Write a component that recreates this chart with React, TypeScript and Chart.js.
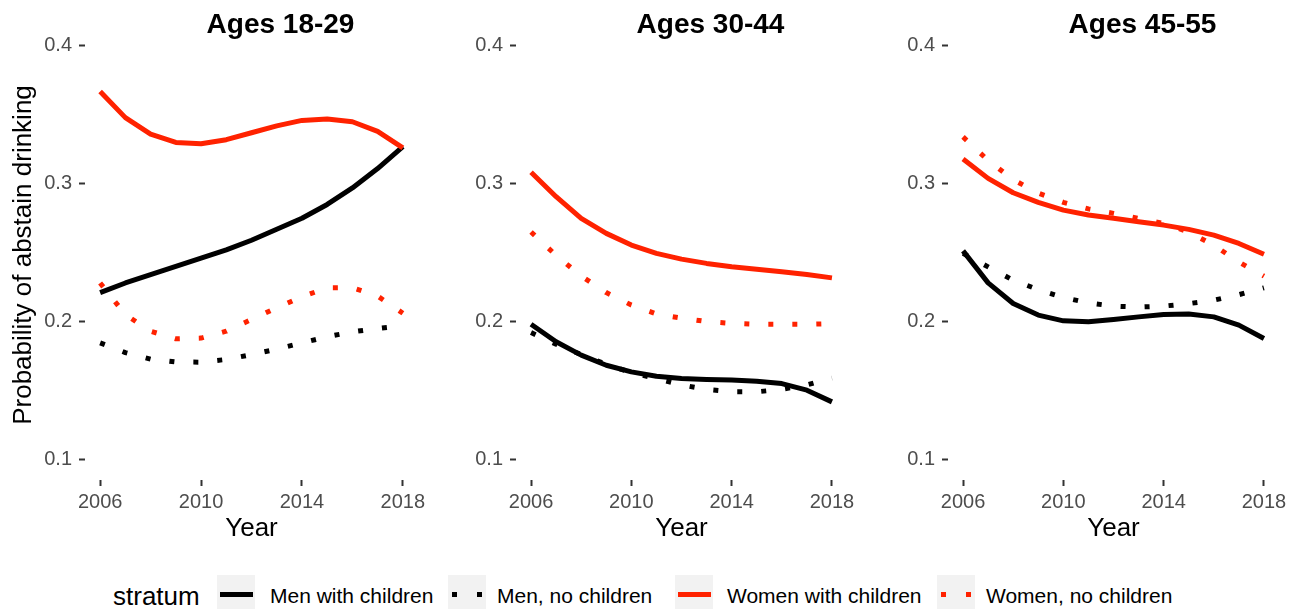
import React, { useEffect, useRef } from "react";
import { Chart, registerables } from "chart.js";

Chart.register(...registerables);

const FONT = '"Liberation Sans", Arial, Helvetica, sans-serif';

const years = [2006, 2007, 2008, 2009, 2010, 2011, 2012, 2013, 2014, 2015, 2016, 2017, 2018];
const xTicks = [2006, 2010, 2014, 2018];
const yTicks = [0.1, 0.2, 0.3, 0.4];
const panelTitles = ["Ages 18-29", "Ages 30-44", "Ages 45-55"];
const seriesNames = ["Men with children", "Men, no children", "Women with children", "Women, no children"];
const seriesColors = ["#000000", "#000000", "#ff2200", "#ff2200"];
const seriesDotted = [false, true, false, true];

// Ages 18-29
const menWith1 = [0.221, 0.228, 0.234, 0.24, 0.246, 0.252, 0.259, 0.267, 0.275, 0.285, 0.297, 0.311, 0.327];
const menNo1 = [0.1845, 0.1775, 0.1727, 0.1707, 0.1705, 0.1725, 0.176, 0.18, 0.1845, 0.189, 0.1925, 0.195, 0.197];
const womenWith1 = [0.367, 0.348, 0.336, 0.33, 0.329, 0.332, 0.337, 0.342, 0.346, 0.347, 0.345, 0.338, 0.326];
const womenNo1 = [0.228, 0.205, 0.193, 0.1875, 0.188, 0.193, 0.2015, 0.21, 0.218, 0.2245, 0.2245, 0.2185, 0.206];

// Ages 30-44
const menWith2 = [0.198, 0.1853, 0.1756, 0.1683, 0.1635, 0.1603, 0.1587, 0.158, 0.1575, 0.1567, 0.155, 0.1502, 0.1417];
const menNo2 = [0.192, 0.1835, 0.176, 0.169, 0.163, 0.1585, 0.154, 0.1507, 0.149, 0.149, 0.1508, 0.154, 0.159];
const womenWith2 = [0.3083, 0.2906, 0.2749, 0.264, 0.2555, 0.2495, 0.2453, 0.2422, 0.2397, 0.238, 0.2361, 0.2342, 0.2317];
const womenNo2 = [0.265, 0.248, 0.233, 0.221, 0.212, 0.2055, 0.2025, 0.2, 0.1987, 0.198, 0.198, 0.198, 0.1985];

// Ages 45-55
const menWith3 = [0.2513, 0.2281, 0.2131, 0.2047, 0.2005, 0.1998, 0.2015, 0.2034, 0.2051, 0.2054, 0.2034, 0.1974, 0.1877];
const menNo3 = [0.2495, 0.2397, 0.23, 0.2232, 0.2175, 0.2135, 0.2112, 0.2105, 0.2112, 0.213, 0.2155, 0.2195, 0.2245];
const womenWith3 = [0.3179, 0.3039, 0.2935, 0.2865, 0.2809, 0.2773, 0.2749, 0.2724, 0.27, 0.2669, 0.2627, 0.2567, 0.2489];
const womenNo3 = [0.334, 0.317, 0.303, 0.2932, 0.2865, 0.2818, 0.2785, 0.2749, 0.2712, 0.265, 0.2554, 0.2432, 0.233];

const panelSeries = [
  [menWith1, menNo1, womenWith1, womenNo1],
  [menWith2, menNo2, womenWith2, womenNo2],
  [menWith3, menNo3, womenWith3, womenNo3],
];

const CANVAS_H = 560;
const panelLayout = [
  { left: 0, width: 431, axisW: 85, rightPad: 13, yTitle: true },
  { left: 431, width: 430, axisW: 85, rightPad: 14, yTitle: false },
  { left: 863, width: 429, axisW: 85, rightPad: 13, yTitle: false },
];

const titlePlugin = {
  id: "panelTitle",
  afterDraw(chart: any, _args: any, opts: any) {
    const { ctx, chartArea } = chart;
    ctx.save();
    ctx.font = `bold 28px ${FONT}`;
    ctx.fillStyle = "#000000";
    ctx.textAlign = "center";
    ctx.textBaseline = "middle";
    ctx.fillText(opts.text, (chartArea.left + chartArea.right) / 2 + opts.shift, opts.y);
    ctx.restore();
  },
};

function Panel({ idx }: { idx: number }) {
  const ref = useRef<HTMLCanvasElement | null>(null);
  const lay = panelLayout[idx];
  useEffect(() => {
    if (!ref.current) return;
    const datasets = seriesNames.map((name, i) => ({
      label: name,
      data: years.map((yr, k) => ({ x: yr, y: panelSeries[idx][i][k] })),
      borderColor: seriesColors[i],
      backgroundColor: seriesColors[i],
      borderWidth: 5,
      borderDash: seriesDotted[i] ? [5, 19] : [],
      borderCapStyle: "butt" as const,
      borderJoinStyle: "round" as const,
      pointRadius: 0,
      tension: 0,
      fill: false,
      order: 3 - i,
    }));
    const chart = new Chart(ref.current, {
      type: "line",
      data: { datasets },
      plugins: [titlePlugin],
      options: {
        responsive: false,
        animation: false,
        devicePixelRatio: 1,
        layout: { padding: { top: 30, right: lay.rightPad, bottom: 0, left: 0 } },
        plugins: {
          legend: { display: false },
          tooltip: { enabled: false },
          title: { display: false },
          panelTitle: { text: panelTitles[idx], shift: 29, y: 25 },
        } as any,
        scales: {
          x: {
            type: "linear",
            min: 2005.4,
            max: 2018.6,
            afterBuildTicks: (s: any) => {
              s.ticks = xTicks.map((v) => ({ value: v }));
            },
            afterFit: (s: any) => {
              s.height = 80;
            },
            grid: {
              display: true,
              drawOnChartArea: false,
              drawTicks: true,
              tickLength: 6,
              tickWidth: 2,
              tickColor: "#333333",
            },
            border: { display: false },
            ticks: {
              color: "#4d4d4d",
              font: { family: FONT, size: 20 },
              padding: 4,
              maxRotation: 0,
              autoSkip: false,
              callback: (v: any) => String(v),
            },
            title: {
              display: true,
              text: "Year",
              color: "#000000",
              font: { family: FONT, size: 26 },
              padding: { top: 0, bottom: 15.4 },
            },
          },
          y: {
            type: "linear",
            min: 0.085,
            max: 0.4116,
            afterBuildTicks: (s: any) => {
              s.ticks = yTicks.map((v) => ({ value: v }));
            },
            afterFit: (s: any) => {
              s.width = lay.axisW;
            },
            grid: {
              display: true,
              drawOnChartArea: false,
              drawTicks: true,
              tickLength: 6,
              tickWidth: 2,
              tickColor: "#333333",
            },
            border: { display: false },
            ticks: {
              color: "#4d4d4d",
              font: { family: FONT, size: 20 },
              padding: 7,
              autoSkip: false,
              callback: (v: any) => Number(v).toFixed(1),
            },
            title: {
              display: lay.yTitle,
              text: "Probability of abstain drinking",
              color: "#000000",
              font: { family: FONT, size: 26 },
              padding: { top: 8, bottom: 0 },
            },
          },
        },
      },
    });
    return () => chart.destroy();
  }, [idx]);
  return (
    <canvas
      ref={ref}
      width={lay.width}
      height={CANVAS_H}
      style={{ position: "absolute", left: lay.left, top: 0, width: lay.width, height: CANVAS_H }}
    />
  );
}

const legendKeyLeft = [217, 448, 675, 937];
const legendLabelLeft = [270, 497, 727, 986];

function Legend() {
  return (
    <>
      <div
        style={{
          position: "absolute",
          left: 113,
          top: 596,
          transform: "translateY(-50%)",
          font: `26px ${FONT}`,
          color: "#000",
          whiteSpace: "nowrap",
          lineHeight: "30px",
        }}
      >
        stratum
      </div>
      {seriesNames.map((name, i) => (
        <React.Fragment key={name}>
          <div
            style={{
              position: "absolute",
              left: legendKeyLeft[i],
              top: 575,
              width: 38,
              height: 38,
              background: "#f2f2f2",
            }}
          >
            {seriesDotted[i] ? (
              <>
                <div style={{ position: "absolute", left: 4, top: 17, width: 5, height: 5, background: seriesColors[i] }} />
                <div style={{ position: "absolute", left: 29, top: 17, width: 5, height: 5, background: seriesColors[i] }} />
              </>
            ) : (
              <div style={{ position: "absolute", left: 3, top: 17, width: 33, height: 5, background: seriesColors[i] }} />
            )}
          </div>
          <div
            style={{
              position: "absolute",
              left: legendLabelLeft[i],
              top: 596,
              transform: "translateY(-50%)",
              font: `21px ${FONT}`,
              color: "#000",
              whiteSpace: "nowrap",
              lineHeight: "26px",
            }}
          >
            {name}
          </div>
        </React.Fragment>
      ))}
    </>
  );
}

export default function App() {
  return (
    <div
      style={{
        position: "absolute",
        left: 0,
        top: 0,
        width: 1303,
        height: 609,
        overflow: "hidden",
        background: "#ffffff",
        fontFamily: FONT,
      }}
    >
      <Panel idx={0} />
      <Panel idx={1} />
      <Panel idx={2} />
      <Legend />
    </div>
  );
}
